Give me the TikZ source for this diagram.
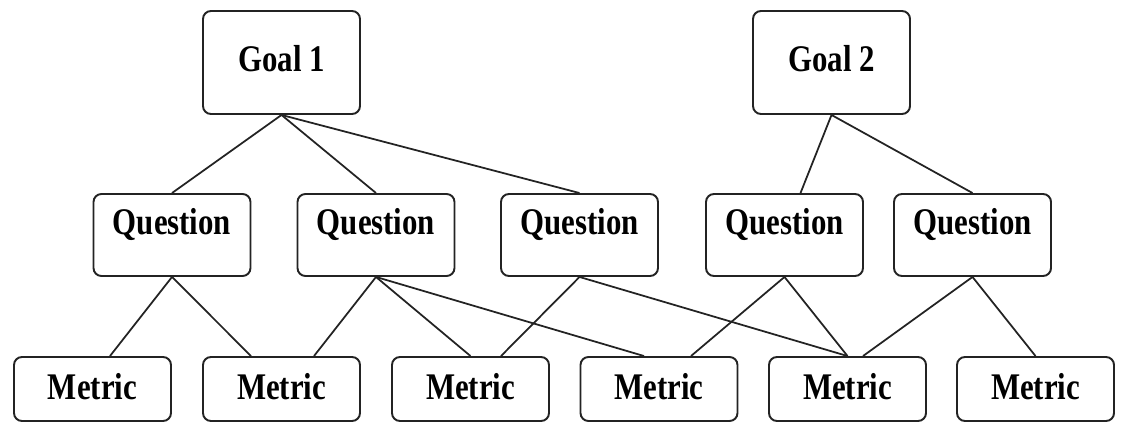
\documentclass[tikz,border=0pt]{standalone}
\usepackage{fontspec}
\setmainfont{Liberation Serif}[FakeStretch=0.82]
\usepackage{tikz}
\usetikzlibrary{positioning,calc}
\definecolor{edgegray}{RGB}{35,35,35}

\tikzset{
  gqmbox/.style={rectangle, rounded corners=0.16cm, draw=edgegray, line width=1.1pt,
                 minimum width=3.14cm, inner xsep=0pt, inner ysep=0pt, align=center,
                 font=\fontsize{21.4pt}{24pt}\selectfont\bfseries},
  goalbox/.style={gqmbox, text height=1.22cm, text depth=0.84cm},
  questionbox/.style={gqmbox, text height=0.82cm, text depth=0.82cm},
  metricbox/.style={gqmbox, text height=0.86cm, text depth=0.42cm},
  link/.style={draw=edgegray, line width=1pt}
}

\begin{document}
\begin{tikzpicture}
  \useasboundingbox (0,0) rectangle (22.96,-8.76);

  % goals
  \node[goalbox] (goal1) at (5.63,-1.25) {Goal 1};
  \node[goalbox] (goal2) at (16.63,-1.25) {Goal 2};

  % questions
  \node[questionbox] (q1) at (3.44,-4.70) {Question};
  \node[questionbox] (q2) at (7.52,-4.70) {Question};
  \node[questionbox] (q3) at (11.59,-4.70) {Question};
  \node[questionbox] (q4) at (15.69,-4.70) {Question};
  \node[questionbox] (q5) at (19.45,-4.70) {Question};

  % metrics
  \node[metricbox] (m1) at (1.85,-7.78) {Metric};
  \node[metricbox] (m2) at (5.63,-7.78) {Metric};
  \node[metricbox] (m3) at (9.41,-7.78) {Metric};
  \node[metricbox] (m4) at (13.18,-7.78) {Metric};
  \node[metricbox] (m5) at (16.95,-7.78) {Metric};
  \node[metricbox] (m6) at (20.71,-7.78) {Metric};

  % goal -> question
  \draw[link] (goal1.south) -- (q1.north);
  \draw[link] (goal1.south) -- (q2.north);
  \draw[link] (goal1.south) -- (q3.north);
  \draw[link] (goal2.south) -- ([xshift=0.32cm]q4.north);
  \draw[link] (goal2.south) -- (q5.north);

  % question -> metric
  \draw[link] (q1.south) -- ([xshift=0.35cm]m1.north);
  \draw[link] (q1.south) -- ([xshift=-0.61cm]m2.north);
  \draw[link] (q2.south) -- ([xshift=0.65cm]m2.north);
  \draw[link] (q2.south) -- (m3.north);
  \draw[link] (q2.south) -- ([xshift=-0.30cm]m4.north);
  \draw[link] (q3.south) -- ([xshift=0.61cm]m3.north);
  \draw[link] (q3.south) -- (m5.north);
  \draw[link] (q4.south) -- ([xshift=0.64cm]m4.north);
  \draw[link] (q4.south) -- (m5.north);
  \draw[link] (q5.south) -- ([xshift=0.31cm]m5.north);
  \draw[link] (q5.south) -- (m6.north);
\end{tikzpicture}
\end{document}
